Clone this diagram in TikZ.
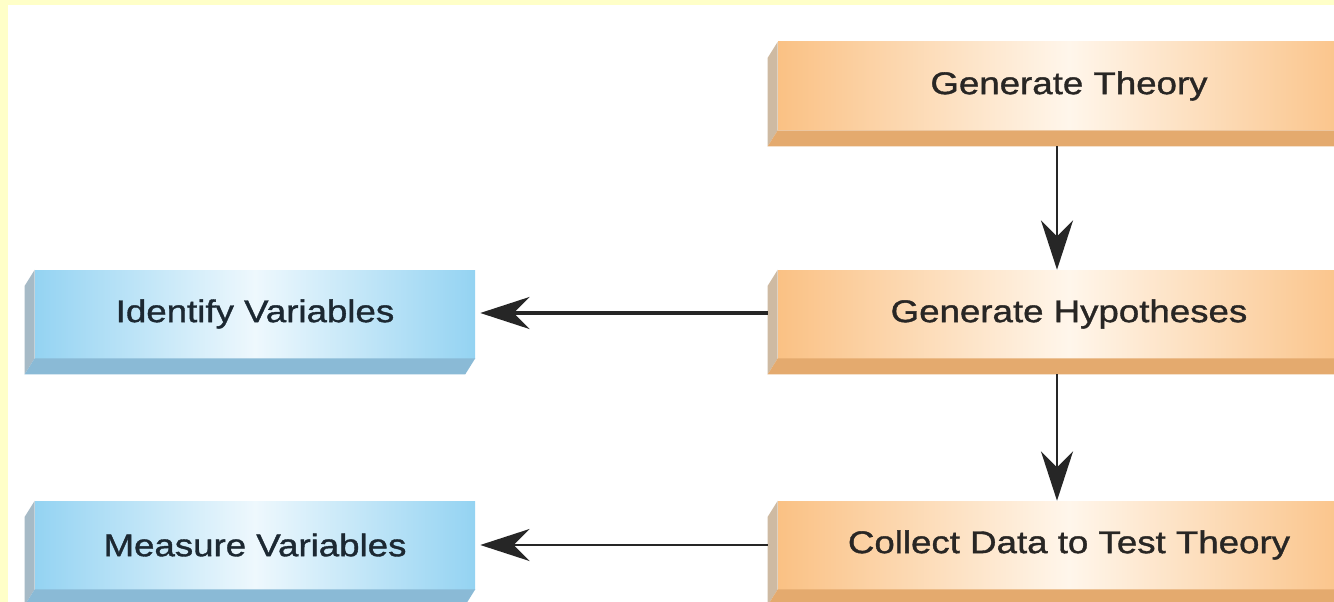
\documentclass[tikz,border=0pt]{standalone}
\usepackage{fontspec}
\newfontfamily\boxfont{Liberation Sans}[FakeStretch=1.17,FakeBold=1.2]
\usetikzlibrary{arrows.meta,calc}
\definecolor{bordery}{RGB}{255,255,200}
\definecolor{orfront}{RGB}{250,193,132}
\definecolor{orlight}{RGB}{255,246,235}
\definecolor{orbot}{RGB}{228,170,110}
\definecolor{orleft}{RGB}{206,186,162}
\definecolor{blfront}{RGB}{148,211,242}
\definecolor{bllight}{RGB}{238,248,253}
\definecolor{blbot}{RGB}{138,186,214}
\definecolor{blleft}{RGB}{166,186,198}
\definecolor{ortext}{RGB}{40,38,36}
\definecolor{bltext}{RGB}{28,40,50}
\tikzset{
  box/.style={minimum height=66pt, inner sep=0pt, font=\boxfont\fontsize{23.5}{27}\selectfont},
  orbox/.style={box, minimum width=436.5pt, left color=orfront, right color=orfront, middle color=orlight, text=ortext},
  blbox/.style={box, minimum width=330pt, left color=blfront, right color=blfront, middle color=bllight, text=bltext},
  or side/.style={fill=orleft},
  or bottom/.style={fill=orbot},
  bl side/.style={fill=blleft},
  bl bottom/.style={fill=blbot},
  arr/.style={-{Stealth[length=37pt,width=24pt,inset=12pt]}, color=black!85}
}
\begin{document}
\begin{tikzpicture}[x=0.75pt,y=-0.75pt]
\useasboundingbox (0,0) rectangle (1334,602);
\clip (0,0) rectangle (1334,602);
\fill[white] (0,0) rectangle (1334,602);
\fill[bordery] (0,0) rectangle (1334,5);
\fill[bordery] (0,0) rectangle (8,602);

% main column
\node[orbox] (gt) at (1069,86) {Generate Theory};
\node[orbox] (gh) at (1069,314) {Generate Hypotheses};
\node[orbox] (cd) at (1069,545) {Collect Data to Test Theory};

% variables
\node[blbox] (iv) at (255,314) {Identify Variables};
\node[blbox] (mv) at (255,545) {Measure Variables};

% side and bottom faces
\foreach \n/\c in {gt/or,gh/or,cd/or,iv/bl,mv/bl}{
  \fill[\c\space side] (\n.north west) -- ++(-10,16) -- ($(\n.south west)+(-10,16)$) -- (\n.south west) -- cycle;
  \fill[\c\space bottom] (\n.south west) -- ++(-10,16) -- ($(\n.south east)+(-10,16)$) -- (\n.south east) -- cycle;
}

\draw[arr, line width=2pt] ($(gt.south)+(-12,16)$) -- ($(gh.north)+(-12,0)$);
\draw[arr, line width=2pt] ($(gh.south)+(-12,16)$) -- ($(cd.north)+(-12,0)$);
\draw[arr, line width=3pt] ($(gh.west)+(-10,-1)$) -- ($(iv.east)+(5,-1)$);
\draw[arr, line width=1.8pt] ($(cd.west)+(-10,0)$) -- ($(mv.east)+(5,0)$);
\end{tikzpicture}
\end{document}
